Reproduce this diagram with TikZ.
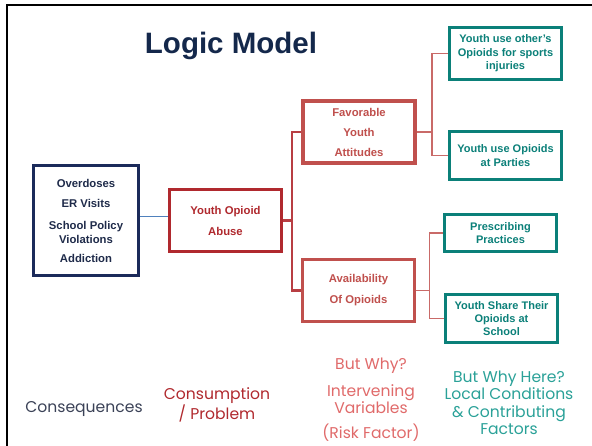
\documentclass[tikz,border=0pt]{standalone}
\usepackage{fontspec}
\setmainfont{Liberation Sans}
\newfontfamily\capfont{Poppins}
\usetikzlibrary{calc}
\definecolor{navyline}{HTML}{1B2A5A}
\definecolor{navytext}{HTML}{1F2B4A}
\definecolor{titlenavy}{HTML}{14284B}
\definecolor{linkblue}{HTML}{4F81BD}
\definecolor{probred}{HTML}{B0292E}
\definecolor{factred}{HTML}{C0504D}
\definecolor{condteal}{HTML}{0B8079}
\definecolor{greytext}{HTML}{3B4257}
\definecolor{pinktext}{HTML}{E06A6A}
\definecolor{tealtext}{HTML}{2AA198}
\tikzset{
  every node/.style={font=\fontsize{11.3}{14}\selectfont\bfseries, align=center, inner sep=0pt},
  box/.style={draw, line width=3.1pt, fill=white},
  consbox/.style={box, draw=navyline, text=navytext, minimum width=105pt, minimum height=110pt},
  probbox/.style={box, draw=probred, text=probred, minimum width=112pt, minimum height=62pt},
  factbox/.style={box, draw=factred, text=factred, minimum width=112pt, minimum height=62pt},
  condbox/.style={box, draw=condteal, text=condteal, minimum width=112pt,
    font=\fontsize{11}{13.4}\selectfont\bfseries},
  link/.style={line width=1.9pt, draw=linkblue},
  redlink/.style={line width=2.3pt, draw=probred!90!white},
  sublink/.style={line width=1.9pt, draw=factred!85!white},
  caption/.style={font=\capfont\fontsize{15.6}{17.5}\selectfont},
}

\begin{document}
\begin{tikzpicture}[x=1pt, y=-1pt]
        \useasboundingbox (0,0) rectangle (592,445);
        % frame
        \draw[line width=2.2pt] (7,447) -- (7,5) -- (595,5);
        \node[font=\fontsize{29.5}{31}\selectfont\bfseries, text=titlenavy, anchor=base] (title) at (231,53) {Logic Model};
        % boxes
        \node[consbox] (cons) at (86,220.5) {Overdoses\\[6pt]ER Visits\\[8pt]School Policy\\Violations\\[5pt]Addiction};
        \node[probbox] (use) at (225.5,220.5) {Youth Opioid\\[7pt]Abuse};
        \node[factbox] (fav) at (359,132) {Favorable\\[6pt]Youth\\[6pt]Attitudes};
        \node[factbox] (avail) at (358.5,290.5) {Availability\\[7pt]Of Opioids};
        \node[condbox, minimum height=52pt] (other) at (505.5,53.5) {Youth use other's\\Opioids for sports\\injuries};
        \node[condbox, minimum height=48pt] (party) at (505.5,155.5) {Youth use Opioids\\at Parties};
        \node[condbox, minimum height=37pt] (presc) at (500.5,233) {Prescribing\\Practices};
        \node[condbox, minimum height=48pt] (share) at (501.5,318.5) {Youth Share Their\\Opioids at\\School};
        % links
        \draw[link] ([yshift=4pt]cons.east) -- ([yshift=4pt]use.west);
        \coordinate (j1) at ($(use.east)!0.5!(use.east -| fav.west)$);
        \coordinate (j2) at ($(fav.east)!0.5!(fav.east -| other.west)$);
        \coordinate (j3) at ($(avail.east)!0.5!(avail.east -| presc.west)$);
        \draw[redlink] (use.east) -- (j1);
        \draw[redlink] (fav.west) -| (j1) |- (avail.west);
        \draw[sublink] (fav.east) -- (j2);
        \draw[sublink] (other.west) -| (j2) |- (party.west);
        \draw[sublink] (avail.east) -- (j3);
        \draw[sublink] (presc.west) -| (j3) |- (share.west);
        % column captions
        \node[caption, text=greytext] (capcons) at (84,409) {Consequences};
        \node[caption, text=probred] (capuse) at (217,405) {Consumption\\/ Problem};
        \node[caption, text=pinktext] (capfact) at (371,399.5) {But Why?\\[9pt]Intervening\\Variables\\[7pt](Risk Factor)};
        \node[caption, text=tealtext] (capcond) at (509,403) {But Why Here?\\Local Conditions\\\& Contributing\\Factors};
\end{tikzpicture}
\end{document}
